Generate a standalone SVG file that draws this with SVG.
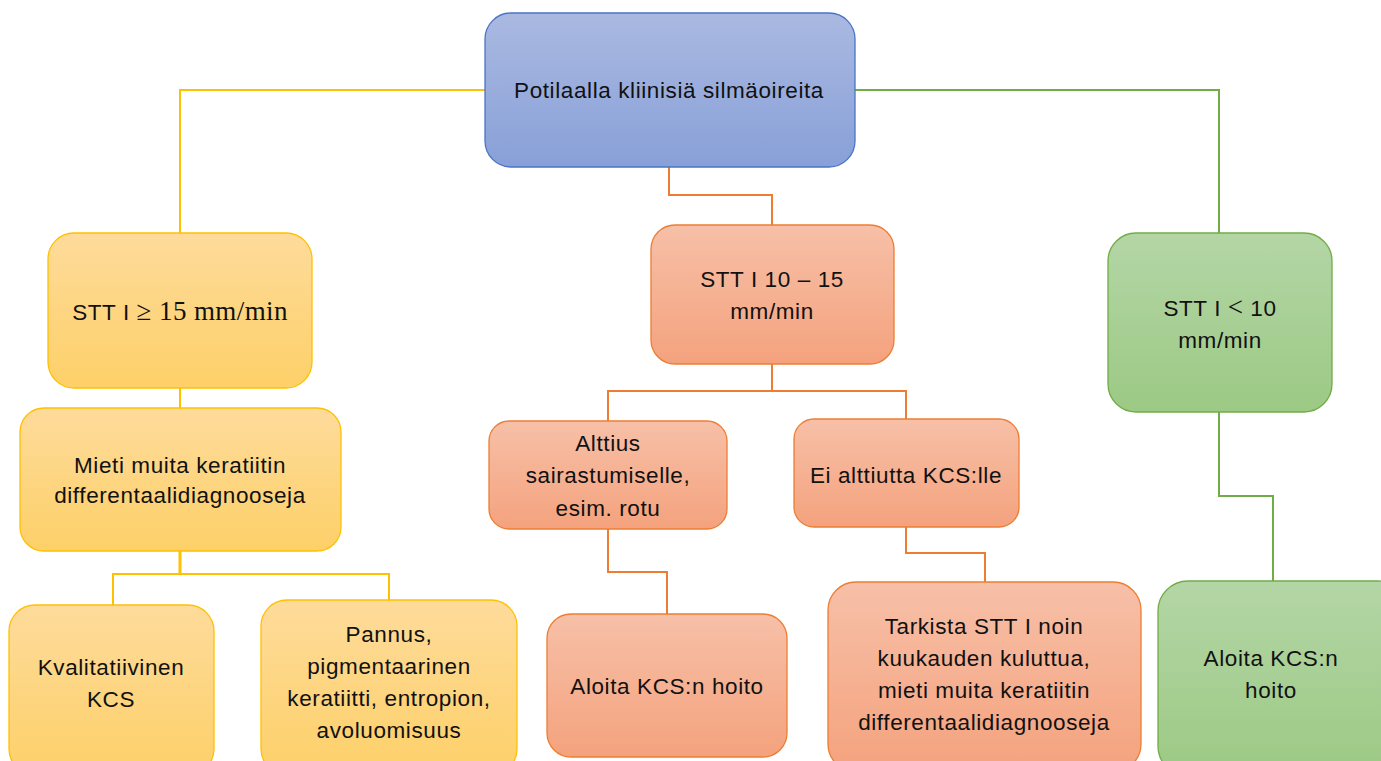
<svg xmlns="http://www.w3.org/2000/svg" width="1381" height="761" viewBox="0 0 1381 761">
<defs>
<linearGradient id="gB" x1="0" y1="0" x2="0" y2="1"><stop offset="0" stop-color="#aab9e1"/><stop offset="1" stop-color="#88a0d8"/></linearGradient>
<linearGradient id="gY" x1="0" y1="0" x2="0" y2="1"><stop offset="0" stop-color="#fedb9b"/><stop offset="1" stop-color="#fdd068"/></linearGradient>
<linearGradient id="gO" x1="0" y1="0" x2="0" y2="1"><stop offset="0" stop-color="#f7c0a8"/><stop offset="1" stop-color="#f4a27d"/></linearGradient>
<linearGradient id="gG" x1="0" y1="0" x2="0" y2="1"><stop offset="0" stop-color="#b4d6a6"/><stop offset="1" stop-color="#9cc984"/></linearGradient>
</defs>
<style>
text{font-family:"Liberation Sans",Arial,sans-serif;font-size:22.5px;letter-spacing:0.6px;fill:#111;text-anchor:middle}
.m{font-family:"Liberation Serif","Times New Roman",serif;font-size:27px;letter-spacing:0.4px}
.b{fill:url(#gB);stroke:#4a74c6;stroke-width:1.3}
.y{fill:url(#gY);stroke:#ffc000;stroke-width:1.3}
.o{fill:url(#gO);stroke:#ed7d31;stroke-width:1.3}
.g{fill:url(#gG);stroke:#70ad47;stroke-width:1.3}
.cy{fill:none;stroke:#ffc000;stroke-width:2}
.co{fill:none;stroke:#ed7d31;stroke-width:2}
.cg{fill:none;stroke:#70ad47;stroke-width:2}
</style>
<g id="connectors">
<path class="cy" d="M485 90 H180 V233"/>
<path class="cg" d="M855 90 H1219 V233"/>
<path class="co" d="M669 167 V195 H772 V225"/>
<path class="cy" d="M180 388 V408"/>
<path class="cy" d="M180 551 V574" style="stroke-width:3"/>
<path class="cy" d="M113 605 V574 H389 V600"/>
<path class="co" d="M772 364 V391"/>
<path class="co" d="M608 421 V391 H906 V419"/>
<path class="co" d="M608 529 V572 H667 V614"/>
<path class="co" d="M906 527 V553 H985 V582"/>
<path class="cg" d="M1219 412 V496 H1273 V581"/>
</g>
<g id="n-top"><rect class="b" x="485" y="13" width="370" height="154" rx="26"/><text x="669" y="98">Potilaalla kliinisiä silmäoireita</text></g>
<g id="n-stt15"><rect class="y" x="48" y="233" width="264" height="155" rx="26"/><text x="180" y="320">STT I <tspan class="m">≥ 15 mm/min</tspan></text></g>
<g id="n-mieti"><rect class="y" x="20" y="408" width="321" height="143" rx="24"/><text x="180" y="473">Mieti muita keratiitin</text><text x="180" y="503">differentaalidiagnooseja</text></g>
<g id="n-kval"><rect class="y" x="9" y="605" width="205" height="170" rx="26"/><text x="111" y="675">Kvalitatiivinen</text><text x="111" y="707">KCS</text></g>
<g id="n-pannus"><rect class="y" x="261" y="600" width="256" height="175" rx="26"/><text x="389" y="642">Pannus,</text><text x="389" y="674">pigmentaarinen</text><text x="389" y="706">keratiitti, entropion,</text><text x="389" y="738">avoluomisuus</text></g>
<g id="n-stt1015"><rect class="o" x="651" y="225" width="243" height="139" rx="24"/><text x="772" y="287">STT I 10 – 15</text><text x="772" y="319">mm/min</text></g>
<g id="n-alttius"><rect class="o" x="489" y="421" width="238" height="108" rx="20"/><text x="608" y="451">Alttius</text><text x="608" y="483">sairastumiselle,</text><text x="608" y="516">esim. rotu</text></g>
<g id="n-ei"><rect class="o" x="794" y="419" width="225" height="108" rx="20"/><text x="906" y="483">Ei alttiutta KCS:lle</text></g>
<g id="n-aloita-o"><rect class="o" x="547" y="614" width="240" height="143" rx="24"/><text x="667" y="694">Aloita KCS:n hoito</text></g>
<g id="n-tarkista"><rect class="o" x="828" y="582" width="313" height="190" rx="28"/><text x="984" y="634">Tarkista STT I noin</text><text x="984" y="666">kuukauden kuluttua,</text><text x="984" y="698">mieti muita keratiitin</text><text x="984" y="730">differentaalidiagnooseja</text></g>
<g id="n-stt10"><rect class="g" x="1108" y="233" width="224" height="179" rx="28"/><text x="1220" y="316">STT I <tspan class="m">&lt;</tspan> 10</text><text x="1220" y="348">mm/min</text></g>
<g id="n-aloita-g"><rect class="g" x="1158" y="581" width="250" height="195" rx="30"/><text x="1271" y="666">Aloita KCS:n</text><text x="1271" y="698">hoito</text></g>
</svg>
